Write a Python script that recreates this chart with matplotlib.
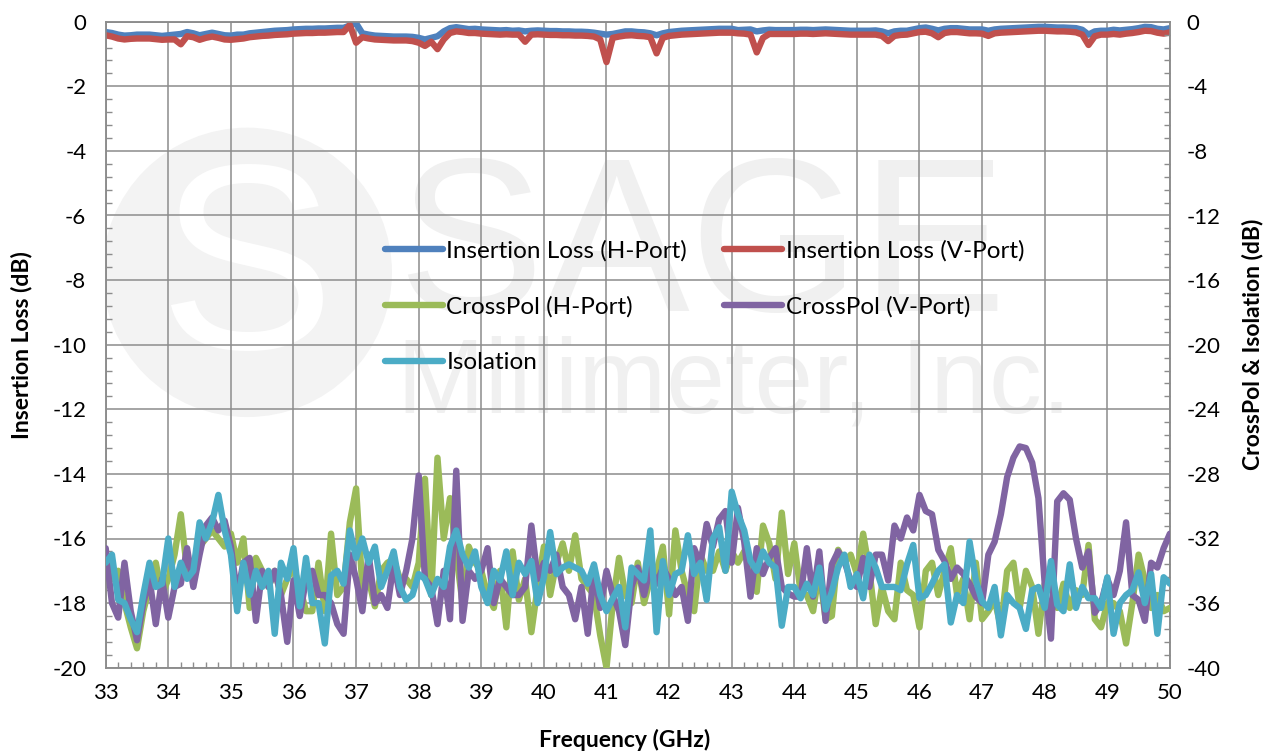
import numpy as np
import matplotlib
matplotlib.use("Agg")
import matplotlib.pyplot as plt
from matplotlib.ticker import MultipleLocator
from matplotlib.patches import Ellipse

# ---------------- data ----------------
freq = np.linspace(33.0, 50.0, 171)

il_h = [
    -0.32, -0.35, -0.40, -0.43, -0.42, -0.40, -0.40, -0.40, -0.42, -0.44,
    -0.42, -0.40, -0.38, -0.32, -0.36, -0.42, -0.38, -0.34, -0.38, -0.42,
    -0.43, -0.40, -0.40, -0.36, -0.34, -0.32, -0.30, -0.28, -0.27, -0.26,
    -0.24, -0.23, -0.22, -0.22, -0.21, -0.21, -0.20, -0.19, -0.19, -0.12,
    -0.05, -0.36, -0.40, -0.43, -0.44, -0.45, -0.46, -0.46, -0.46, -0.47,
    -0.50, -0.55, -0.50, -0.45, -0.30, -0.20, -0.17, -0.20, -0.23, -0.22,
    -0.24, -0.25, -0.26, -0.27, -0.26, -0.28, -0.27, -0.30, -0.28, -0.27,
    -0.28, -0.29, -0.29, -0.30, -0.30, -0.31, -0.31, -0.32, -0.34, -0.37,
    -0.40, -0.38, -0.34, -0.30, -0.30, -0.32, -0.33, -0.36, -0.42, -0.36,
    -0.32, -0.30, -0.28, -0.27, -0.26, -0.25, -0.24, -0.23, -0.22, -0.22,
    -0.22, -0.26, -0.25, -0.24, -0.30, -0.27, -0.25, -0.26, -0.26, -0.26,
    -0.26, -0.25, -0.25, -0.26, -0.25, -0.24, -0.25, -0.26, -0.27, -0.28,
    -0.28, -0.28, -0.28, -0.27, -0.30, -0.36, -0.30, -0.28, -0.28, -0.24,
    -0.20, -0.18, -0.22, -0.27, -0.22, -0.20, -0.20, -0.22, -0.24, -0.24,
    -0.24, -0.28, -0.24, -0.22, -0.21, -0.20, -0.19, -0.18, -0.17, -0.16,
    -0.16, -0.17, -0.18, -0.18, -0.19, -0.20, -0.25, -0.40, -0.30, -0.28,
    -0.28, -0.25, -0.27, -0.25, -0.23, -0.20, -0.16, -0.17, -0.22, -0.24,
    -0.20,
]

il_v = [
    -0.42, -0.46, -0.52, -0.55, -0.53, -0.52, -0.52, -0.52, -0.54, -0.56,
    -0.55, -0.55, -0.70, -0.45, -0.48, -0.56, -0.50, -0.46, -0.50, -0.55,
    -0.56, -0.54, -0.52, -0.48, -0.46, -0.44, -0.43, -0.41, -0.40, -0.39,
    -0.37, -0.36, -0.35, -0.35, -0.34, -0.34, -0.33, -0.32, -0.32, -0.10,
    -0.65, -0.48, -0.52, -0.55, -0.56, -0.57, -0.58, -0.58, -0.58, -0.60,
    -0.65, -0.75, -0.62, -0.85, -0.55, -0.35, -0.30, -0.32, -0.35, -0.35,
    -0.37, -0.38, -0.39, -0.40, -0.39, -0.40, -0.40, -0.62, -0.40, -0.39,
    -0.40, -0.41, -0.41, -0.42, -0.42, -0.43, -0.43, -0.44, -0.46, -0.55,
    -1.25, -0.50, -0.46, -0.43, -0.42, -0.44, -0.45, -0.48, -0.98, -0.50,
    -0.44, -0.42, -0.40, -0.39, -0.38, -0.37, -0.36, -0.35, -0.34, -0.34,
    -0.34, -0.36, -0.37, -0.40, -0.95, -0.50, -0.38, -0.38, -0.38, -0.38,
    -0.38, -0.37, -0.37, -0.38, -0.37, -0.36, -0.37, -0.38, -0.39, -0.40,
    -0.40, -0.40, -0.40, -0.40, -0.44, -0.60, -0.44, -0.41, -0.40, -0.36,
    -0.32, -0.31, -0.36, -0.48, -0.35, -0.32, -0.32, -0.34, -0.36, -0.36,
    -0.37, -0.44, -0.36, -0.34, -0.33, -0.32, -0.31, -0.30, -0.29, -0.28,
    -0.28, -0.29, -0.30, -0.30, -0.31, -0.33, -0.40, -0.72, -0.45, -0.40,
    -0.40, -0.38, -0.40, -0.37, -0.35, -0.32, -0.28, -0.29, -0.34, -0.37,
    -0.33,
]

xpol_h = [
    -33.0, -34.5, -34.0, -36.0, -37.5, -38.8, -36.5, -35.0, -33.5, -35.5,
    -34.5, -33.0, -30.5, -34.0, -33.5, -32.5, -32.0, -31.5, -32.0, -32.5,
    -31.7, -33.5, -32.0, -36.3, -33.2, -34.0, -35.0, -34.0, -35.5, -34.5,
    -33.8, -35.0, -36.5, -36.5, -33.5, -36.5, -31.7, -35.5, -35.0, -31.0,
    -28.9, -35.0, -34.5, -36.2, -34.0, -33.5, -33.3, -34.5, -34.5, -35.0,
    -33.5, -28.3, -35.5, -27.0, -32.0, -29.5, -33.0, -36.0, -32.5, -33.5,
    -34.0, -35.5, -36.3, -34.0, -37.5, -32.8, -35.8, -34.5, -37.8, -35.0,
    -32.5, -35.5, -33.5, -32.3, -34.0, -31.8, -34.5, -35.0, -35.5, -38.0,
    -40.0, -36.0, -33.2, -35.5, -36.0, -33.5, -36.0, -34.5, -34.0, -32.5,
    -36.7, -31.5, -34.0, -35.5, -36.5, -33.0, -34.0, -34.0, -32.8, -34.0,
    -32.8, -33.5, -32.8, -33.5, -35.3, -31.2, -32.3, -34.5, -30.4, -34.2,
    -32.3, -35.3, -35.5, -36.5, -34.0, -37.0, -36.8, -32.7, -33.5, -33.0,
    -34.2, -31.7, -34.0, -37.3, -35.0, -36.5, -37.0, -33.5, -35.2, -35.5,
    -37.5, -34.0, -33.5, -35.5, -34.0, -32.6, -35.5, -34.5, -37.0, -33.5,
    -37.0, -36.5, -35.8, -37.5, -34.0, -33.5, -36.3, -34.0, -35.0, -37.9,
    -34.8, -34.5, -36.3, -34.8, -36.3, -35.2, -35.5, -32.4, -37.0, -37.5,
    -36.0, -36.0, -36.5, -38.5, -36.0, -33.0, -34.6, -36.3, -35.5, -36.5,
    -36.3,
]

xpol_v = [
    -32.6, -36.0, -36.9, -33.5, -36.5, -38.3, -36.0, -34.5, -37.3, -34.5,
    -36.9, -35.0, -34.8, -32.6, -35.0, -33.0, -31.2, -30.7, -31.5, -30.9,
    -32.5, -35.5, -33.5, -33.2, -37.1, -34.0, -35.0, -34.0, -35.5, -38.4,
    -34.6, -36.8, -34.5, -34.0, -35.5, -35.5, -36.0, -37.3, -37.9, -33.0,
    -34.5, -36.5, -33.0, -36.0, -35.5, -36.3, -33.5, -35.5, -34.0, -32.0,
    -28.1, -34.5, -35.0, -37.3, -34.0, -37.0, -27.8, -37.1, -34.0, -34.5,
    -34.0, -32.6, -36.0, -34.5, -35.0, -35.5, -35.5, -35.0, -31.2, -34.5,
    -33.5, -34.0, -33.0, -35.0, -35.5, -37.0, -35.0, -37.9, -34.0, -36.3,
    -34.0, -35.5, -36.5, -38.6, -35.0, -33.8, -35.5, -33.8, -34.8, -33.8,
    -34.5, -35.5, -35.0, -37.1, -32.6, -33.6, -31.1, -32.5, -30.8, -30.3,
    -33.5, -30.1, -32.2, -35.6, -32.6, -34.2, -33.2, -32.6, -35.0, -35.4,
    -35.6, -35.6, -32.6, -35.6, -32.8, -37.1, -33.6, -32.8, -33.4, -34.6,
    -35.0, -33.2, -35.0, -33.0, -33.0, -34.6, -31.2, -32.0, -30.7, -31.5,
    -29.3, -30.3, -30.5, -32.7, -33.4, -34.5, -33.8, -34.2, -34.8, -35.6,
    -36.0, -33.0, -32.2, -30.5, -28.2, -27.0, -26.3, -26.4, -27.3, -29.5,
    -34.8, -38.2, -29.7, -29.2, -29.6, -32.0, -33.8, -32.8, -36.6, -36.0,
    -34.5, -35.5, -34.0, -31.0, -35.5, -35.8, -37.1, -33.5, -33.8, -32.6,
    -31.7,
]

isolation = [
    -33.5, -33.0, -35.8, -36.0, -37.0, -37.8, -35.5, -33.5, -35.0, -34.8,
    -32.0, -35.0, -33.5, -34.5, -34.0, -31.0, -32.0, -31.0, -29.3, -31.5,
    -33.0, -36.5, -33.5, -35.5, -34.0, -35.0, -34.0, -37.9, -33.5, -34.5,
    -32.6, -36.2, -33.2, -36.0, -36.0, -38.5, -34.3, -34.0, -34.8, -31.5,
    -33.2, -32.0, -33.5, -32.5, -35.0, -34.0, -32.8, -35.0, -35.8, -35.5,
    -34.2, -34.5, -35.5, -34.5, -35.0, -32.5, -31.5, -33.0, -33.8, -32.8,
    -35.0, -36.0, -34.0, -34.6, -32.8, -35.5, -33.5, -34.2, -33.4, -36.0,
    -34.4, -31.6, -34.2, -33.8, -33.6, -33.8, -34.0, -34.8, -33.6, -35.5,
    -36.5, -35.7, -35.0, -37.5, -33.8, -34.2, -34.6, -31.5, -37.8, -33.4,
    -35.5, -34.2, -34.0, -31.8, -34.2, -33.5, -35.8, -32.0, -31.3, -34.0,
    -29.1, -30.5, -31.5, -33.4, -34.0, -32.8, -33.5, -33.8, -37.4, -35.0,
    -35.0, -35.7, -34.8, -35.5, -33.8, -36.4, -35.3, -33.8, -33.0, -35.0,
    -34.2, -35.7, -33.0, -33.8, -35.0, -35.0, -35.0, -35.2, -33.6, -32.4,
    -35.7, -35.5, -34.8, -34.0, -33.6, -37.2, -35.5, -36.0, -32.2, -34.6,
    -35.9, -36.3, -35.0, -38.0, -35.5, -36.0, -36.3, -37.6, -35.2, -35.0,
    -36.3, -33.4, -36.1, -36.5, -33.6, -36.3, -35.0, -35.7, -35.7, -36.3,
    -34.4, -37.9, -36.0, -35.5, -35.2, -34.1, -36.0, -34.2, -37.9, -34.4,
    -34.8,
]

labels = ["Insertion Loss (H-Port)", "Insertion Loss (V-Port)",
          "CrossPol (H-Port)", "CrossPol (V-Port)", "Isolation"]
colors = ["#4F81BD", "#C0504D", "#9BBB59", "#8064A2", "#4BACC6"]

# ---------------- figure ----------------
plt.rcParams['font.family'] = ['Lato', 'DejaVu Sans']
plt.rcParams['axes.unicode_minus'] = False
W, H = 1276, 756
fig = plt.figure(figsize=(W / 100, H / 100), dpi=100)
L, R, B, T = 105.7 / W, 1169.9 / W, 1 - 667.7 / H, 1 - 21.7 / H
ax = fig.add_axes([L, B, R - L, T - B])
ax2 = ax.twinx()
ax.set_zorder(1)
ax2.set_zorder(2)
ax.patch.set_facecolor("white")
ax2.patch.set_visible(False)

gcol = "#8c8c8c"
lw = 4.6

# faint watermark
wm = "#f0f0f0"
ax.add_patch(Ellipse((0.133, 0.612), 2 * 0.136, 2 * 0.224, transform=ax.transAxes,
                     facecolor="#f3f3f3", edgecolor="none", zorder=0))
ax.text(0.133, 0.60, "S", transform=ax.transAxes, ha="center", va="center",
        fontsize=190, color="white", zorder=0, family="Liberation Sans")
ax.text(0.56, 0.64, "SAGE", transform=ax.transAxes, ha="center", va="center",
        fontsize=158, color=wm, zorder=0, family="Liberation Sans")
ax.text(0.59, 0.437, "Millimeter, Inc.", transform=ax.transAxes, ha="center",
        va="center", fontsize=76, color=wm, zorder=0, family="Liberation Sans")

l1, = ax.plot(freq, il_h, color=colors[0], lw=lw, zorder=3, solid_capstyle="round")
l2, = ax.plot(freq, il_v, color=colors[1], lw=lw, zorder=4, solid_capstyle="round")
l3, = ax2.plot(freq, xpol_h, color=colors[2], lw=lw, zorder=3, solid_capstyle="round")
l4, = ax2.plot(freq, xpol_v, color=colors[3], lw=lw, zorder=4, solid_capstyle="round")
l5, = ax2.plot(freq, isolation, color=colors[4], lw=lw, zorder=5, solid_capstyle="round")

ax.set_xlim(33, 50)
ax.set_ylim(-20, 0)
ax2.set_ylim(-40, 0)

ax.xaxis.set_major_locator(MultipleLocator(1))
ax.xaxis.set_minor_locator(MultipleLocator(0.2))
ax.yaxis.set_major_locator(MultipleLocator(2))
ax.yaxis.set_minor_locator(MultipleLocator(0.4))
ax2.yaxis.set_major_locator(MultipleLocator(4))
ax2.yaxis.set_minor_locator(MultipleLocator(0.8))

ax.grid(True, which="major", color=gcol, lw=1.1, zorder=1)
ax.set_axisbelow(True)

for a in (ax, ax2):
    for s in a.spines.values():
        s.set_color(gcol)
        s.set_linewidth(1.1)

fs = 16
ax.tick_params(axis="x", which="both", direction="in", color=gcol, labelsize=fs,
               pad=11, top=False)
ax.tick_params(axis="x", which="major", length=0)
ax.tick_params(axis="x", which="minor", length=4, width=1.0)
ax.tick_params(axis="y", which="major", direction="in", length=0, labelsize=fs, pad=14)
ax.tick_params(axis="y", which="minor", direction="in", length=4, width=1.0, color=gcol)
ax2.tick_params(axis="y", which="major", direction="in", length=0, labelsize=fs, pad=12)
ax2.tick_params(axis="y", which="minor", direction="in", length=4, width=1.0, color=gcol)

ax.set_xticks(np.arange(33, 51, 1))
ax.set_xticklabels([str(v) for v in range(33, 51)])

lab_kw = dict(fontsize=16.5, fontweight="bold")
ax.set_xlabel("Frequency (GHz)", **lab_kw)
ax.set_ylabel("Insertion Loss (dB)", **lab_kw)
ax2.set_ylabel("CrossPol & Isolation (dB)", **lab_kw)
ax.xaxis.label.set_va("center")
ax.xaxis.set_label_coords(0.488, -0.112)
ax.yaxis.label.set_va("center")
ax.yaxis.set_label_coords(-0.079, 0.5)
ax2.yaxis.label.set_va("center")
ax2.yaxis.label.set_rotation(90)
ax2.yaxis.set_label_coords(1.078, 0.5)

# legend laid out row by row (2 columns)
hs = [l1, l3, l5, l2, l4]
ls = [labels[0], labels[2], labels[4], labels[1], labels[3]]
leg = ax2.legend(hs, ls, ncol=2, loc="upper left",
                 bbox_to_anchor=(0.262, 0.662), frameon=False, fontsize=17.5,
                 handlelength=2.4, handletextpad=0.15, columnspacing=1.5,
                 labelspacing=1.42, borderpad=0, borderaxespad=0)

fig.savefig("out.png", dpi=100)
